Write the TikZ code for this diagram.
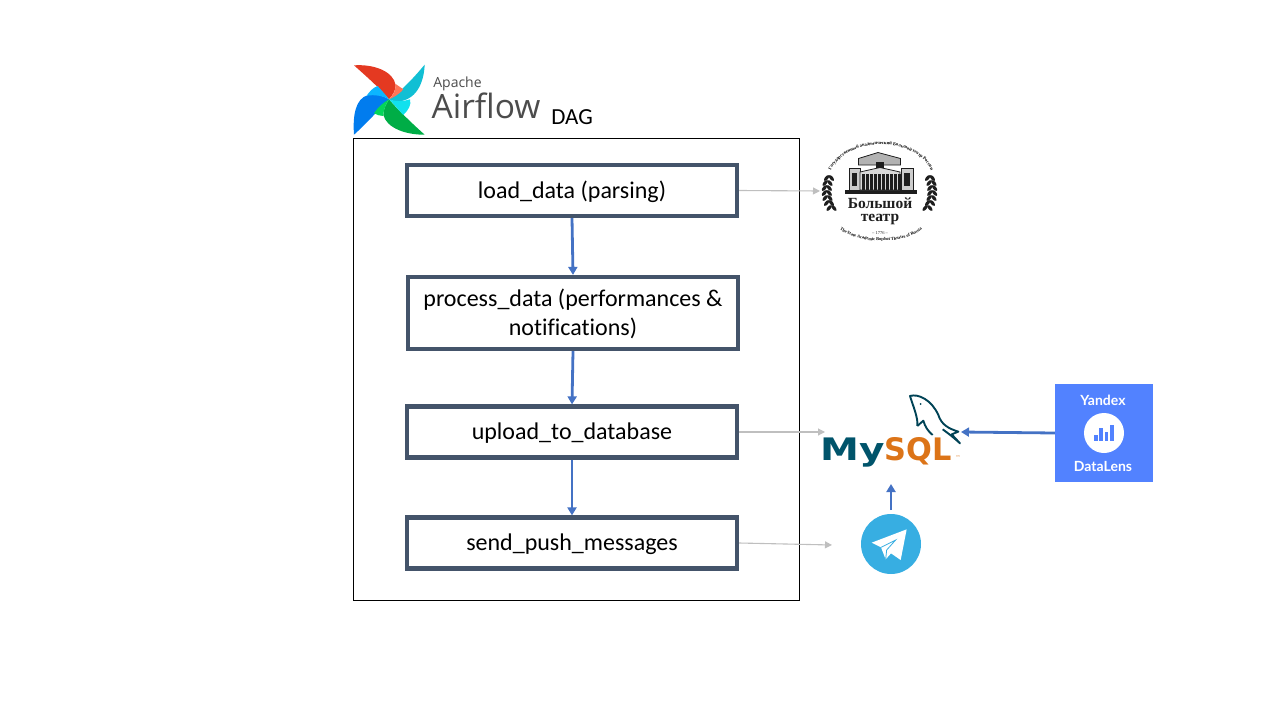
\documentclass[tikz,border=0pt]{standalone}
\usepackage{fontspec}
\setmainfont[Ligatures=NoCommon]{Carlito}
\newfontfamily\airflowfont{Open Sans}
\newfontfamily\lensfont{Lato}
\newfontfamily\mysqlfont{DejaVu Sans}
\newfontfamily\teatrfont{Liberation Serif}
\usetikzlibrary{arrows.meta,decorations.text}
\definecolor{taskline}{HTML}{44546A}
\definecolor{flowblue}{HTML}{4472C4}
\definecolor{sidegray}{HTML}{BFBFBF}
\definecolor{lensblue}{HTML}{5282FF}
\definecolor{mysqlblue}{HTML}{00546B}
\definecolor{mysqlorange}{HTML}{DC7418}
\definecolor{telegramblue}{HTML}{37AEE2}
\definecolor{teatrdark}{HTML}{1E1E1E}
\definecolor{bladered}{HTML}{E43921}
\definecolor{bladeorange}{HTML}{FF7557}
\definecolor{bladeteal}{HTML}{11BFD4}
\definecolor{bladecyan}{HTML}{11E1EE}
\definecolor{bladegreen}{HTML}{00AD46}
\definecolor{bladelime}{HTML}{04D659}
\definecolor{bladeblue}{HTML}{017CEE}
\definecolor{bladesky}{HTML}{0CB6FF}
\tikzset{
  taskbox/.style={draw=taskline, line width=4.2pt, fill=white, inner sep=0pt,
    minimum width=330pt, minimum height=51pt, align=center, text depth=2pt,
    font=\fontsize{24}{29}\selectfont},
  flowarrow/.style={-{Triangle[length=8pt,width=9pt]}, flowblue, line width=2.8pt},
  sidearrow/.style={-{Triangle[length=7pt,width=7pt]}, sidegray, line width=1.1pt},
  lenstext/.style={text=white, inner sep=0pt, font=\lensfont\bfseries\fontsize{14}{14}\selectfont},
  teatrtext/.style={text=teatrdark, inner sep=0pt, anchor=base, font=\teatrfont\bfseries\fontsize{15.5}{15.5}\selectfont},
  mysqltext/.style={inner sep=0pt, anchor=base, font=\mysqlfont\bfseries\fontsize{31}{31}\selectfont},
}
\begin{document}
\begin{tikzpicture}[x=1pt,y=-1pt]
    \useasboundingbox (0,0) rectangle (1280,720);

    % DAG frame
    \node[draw=black, line width=1pt, minimum width=446pt, minimum height=462pt, inner sep=0pt] (dagframe) at (576.5,369.5) {};

    % airflow pinwheel
    \begin{scope}[shift={(350,60)},scale=1/3]
        \fill[bladered] (12,16) .. controls (75,12) and (130,35) .. (137,75) .. controls (138,90) and (128,105) .. (117,118) .. controls (90,85) and (50,50) .. cycle;
        \fill[bladeteal] (224,14) .. controls (222,60) and (205,115) .. (150,124) .. controls (135,125) and (125,122) .. (117,118) .. controls (135,105) and (165,85) .. cycle;
        \fill[bladegreen] (224,224) .. controls (170,225) and (110,205) .. (100,165) .. controls (100,145) and (110,130) .. (117,118) .. controls (140,145) and (180,185) .. cycle;
        \fill[bladeblue] (12,224) .. controls (8,170) and (15,115) .. (55,105) .. controls (80,100) and (100,108) .. (117,118) .. controls (90,145) and (50,190) .. cycle;
        \fill[bladesky] (117,118) .. controls (100,108) and (75,103) .. (50,107) .. controls (58,95) and (70,82) .. (83,78) .. controls (95,92) and (108,105) .. cycle;
        \fill[bladeorange] (137,72) -- (160,88) .. controls (145,105) and (130,112) .. (117,118) .. controls (130,105) and (138,90) .. cycle;
        \fill[bladecyan] (117,118) .. controls (135,125) and (160,125) .. (180,118) .. controls (185,135) and (175,150) .. (160,165) .. controls (145,150) and (130,130) .. cycle;
        \fill[bladelime] (117,118) .. controls (110,130) and (100,145) .. (100,168) .. controls (90,168) and (82,165) .. (72,160) .. controls (85,140) and (100,128) .. cycle;
    \end{scope}
    \node[inner sep=0pt, text=black!70, font=\airflowfont\fontsize{14}{14}\selectfont] (apachelabel) at (457.5,84) {Apache};
    \node[inner sep=0pt, text=black!70, font=\airflowfont\fontsize{33.5}{33.5}\selectfont] (airflowlabel) at (486,106) {Airflow};
    \node[inner sep=0pt, font=\fontsize{23}{23}\selectfont] (daglabel) at (572,117) {DAG};

    % tasks
    \node[taskbox] (loaddata) at (572,190.5) {load\_data (parsing)};
    \node[taskbox, minimum height=72pt] (processdata) at (573,313) {process\_data (performances \&\\notifications)};
    \node[taskbox] (uploaddb) at (572,432) {upload\_to\_database};
    \node[taskbox] (sendpush) at (572,543) {send\_push\_messages};

    % flow between tasks
    \draw[flowarrow] (loaddata.south) -- (processdata.north);
    \draw[flowarrow] (processdata.south) -- (uploaddb.north);
    \draw[flowarrow] (uploaddb.south) -- (sendpush.north);

    % bolshoi logo
    \path[decorate, decoration={text along path, text align=center, text format delimiters={|}{|},
        text={|\teatrfont\bfseries\fontsize{4.6}{5}\selectfont|Государственный академический Большой театр России}}]
        (831,170) .. controls (848,136) and (914,136) .. (931,170);
    \path[decorate, decoration={text along path, text align=center, text format delimiters={|}{|},
        text={|\teatrfont\bfseries\fontsize{4.4}{5}\selectfont|The State Academic Bolshoi Theatre of Russia}}]
        (836,226) .. controls (855,246) and (907,246) .. (926,226);
    % building
    \fill[teatrdark] (845,189.5) rectangle (917,193.5);
    \draw[teatrdark, fill=white!80!black, line width=0.8pt] (849,168) rectangle (860,190);
    \draw[teatrdark, fill=white!80!black, line width=0.8pt] (901,168) rectangle (913,190);
    \draw[teatrdark, fill=white!70!black, line width=0.8pt] (858.5,158.5) -- (878,152.5) -- (900.5,158.5) -- (900.5,165) -- (858.5,165) -- cycle;
    \draw[teatrdark, fill=white!85!black, line width=0.8pt] (860,172) -- (880,167.5) -- (900,172) -- (900,190) -- (860,190) -- cycle;
    \fill[teatrdark] (876,162) rectangle (884,168);
    \foreach \colx in {862,866,870,874,878,882,886,890,894,898}
        \fill[teatrdark] (\colx,174) rectangle ++(2.6,16);
    \fill[teatrdark] (852,173) rectangle (857,186);
    \fill[teatrdark] (904,173) rectangle (910,186);
    % laurels
    \foreach \leafx/\leafy in {829/178,827.5/183,826.8/188,826.8/193,827.5/198,829/203,831.5/208,
                               930/178,931.5/183,932.2/188,932.2/193,931.5/198,930/203,927.5/208}{
        \fill[teatrdark, shift={(\leafx-2.4,\leafy)}, rotate=50] (0,0) ellipse (3.6 and 1.7);
        \fill[teatrdark, shift={(\leafx+2.4,\leafy)}, rotate=-50] (0,0) ellipse (3.6 and 1.7);
    }
    \node[teatrtext] (teatrone) at (880,208) {Большой};
    \node[teatrtext] (teatrtwo) at (880,221) {театр};
    \node[inner sep=0pt, anchor=base, text=teatrdark, font=\teatrfont\fontsize{4.5}{5}\selectfont] (teatryear) at (880,234) {– 1776 –};
    \coordinate (teatrin) at (820,191);
    \draw[sidearrow] (loaddata.east) -- (teatrin);

    % mysql logo
    \node[mysqltext, xscale=1.26, text=mysqlblue] (mysqlmy) at (853,460) {My};
    \node[mysqltext, xscale=0.98, text=mysqlorange] (mysqlsql) at (918.5,460) {SQL};
    \node[inner sep=0pt, text=mysqlorange, font=\mysqlfont\fontsize{5}{5}\selectfont] (mysqltm) at (958,458) {™};
    \begin{scope}[shift={(810,380)},scale=1/3]
        \draw[mysqlblue!80!black, line width=1.9pt, line join=round] (322,138) .. controls (325,115) and (310,80) .. (300,48) .. controls (325,40) and (365,60) .. (385,105) .. controls (395,135) and (415,145) .. (445,155) -- (425,163) -- (450,190) .. controls (430,172) and (415,160) .. (398,148);
        \draw[mysqlblue!80!black, line width=1.9pt, line join=round] (322,138) -- (340,122) .. controls (345,140) and (355,155) .. (368,165);
        \fill[mysqlblue!80!black] (332,72) circle (3);
    \end{scope}
    \coordinate (mysqlin) at (825,432);
    \draw[sidearrow] (uploaddb.east) -- (mysqlin);

    % telegram logo
    \node[circle, fill=telegramblue, minimum size=60pt, inner sep=0pt] (telegram) at (891,544) {};
    \begin{scope}[shift={(855,510)},scale=1/3]
        \fill[white] (155,58) -- (50,98) -- (78,112) -- (92,148) -- (108,130) -- (137,150) -- cycle;
        \draw[telegramblue, line width=0.8pt] (78,112) -- (122,90) -- (95,120) -- (92,148);
    \end{scope}
    \coordinate (telegramout) at (891,510);
    \coordinate (mysqlbelow) at (891,484);
    \coordinate (telegramin) at (832,545);
    \draw[sidearrow] (sendpush.east) -- (telegramin);
    \draw[flowarrow] (telegramout) -- (mysqlbelow);

    % datalens logo
    \node[fill=lensblue, minimum size=98pt, inner sep=0pt] (datalens) at (1104,433) {};
    \node[lenstext] (lensyandex) at (1103,400) {Yandex};
    \node[lenstext] (lensname) at (1103,466) {DataLens};
    \node[circle, fill=white, minimum size=40pt, inner sep=0pt] (lensdot) at (1104,433) {};
    \fill[lensblue] (1094,435) rectangle (1097.7,440.7);
    \fill[lensblue] (1099.3,428.3) rectangle (1103.3,440.7);
    \fill[lensblue] (1104.7,431.7) rectangle (1108.3,440.7);
    \fill[lensblue] (1110,425) rectangle (1114,440.7);
    \coordinate (mysqlright) at (961,432);
    \draw[flowarrow] (datalens.west) -- (mysqlright);
\end{tikzpicture}
\end{document}
